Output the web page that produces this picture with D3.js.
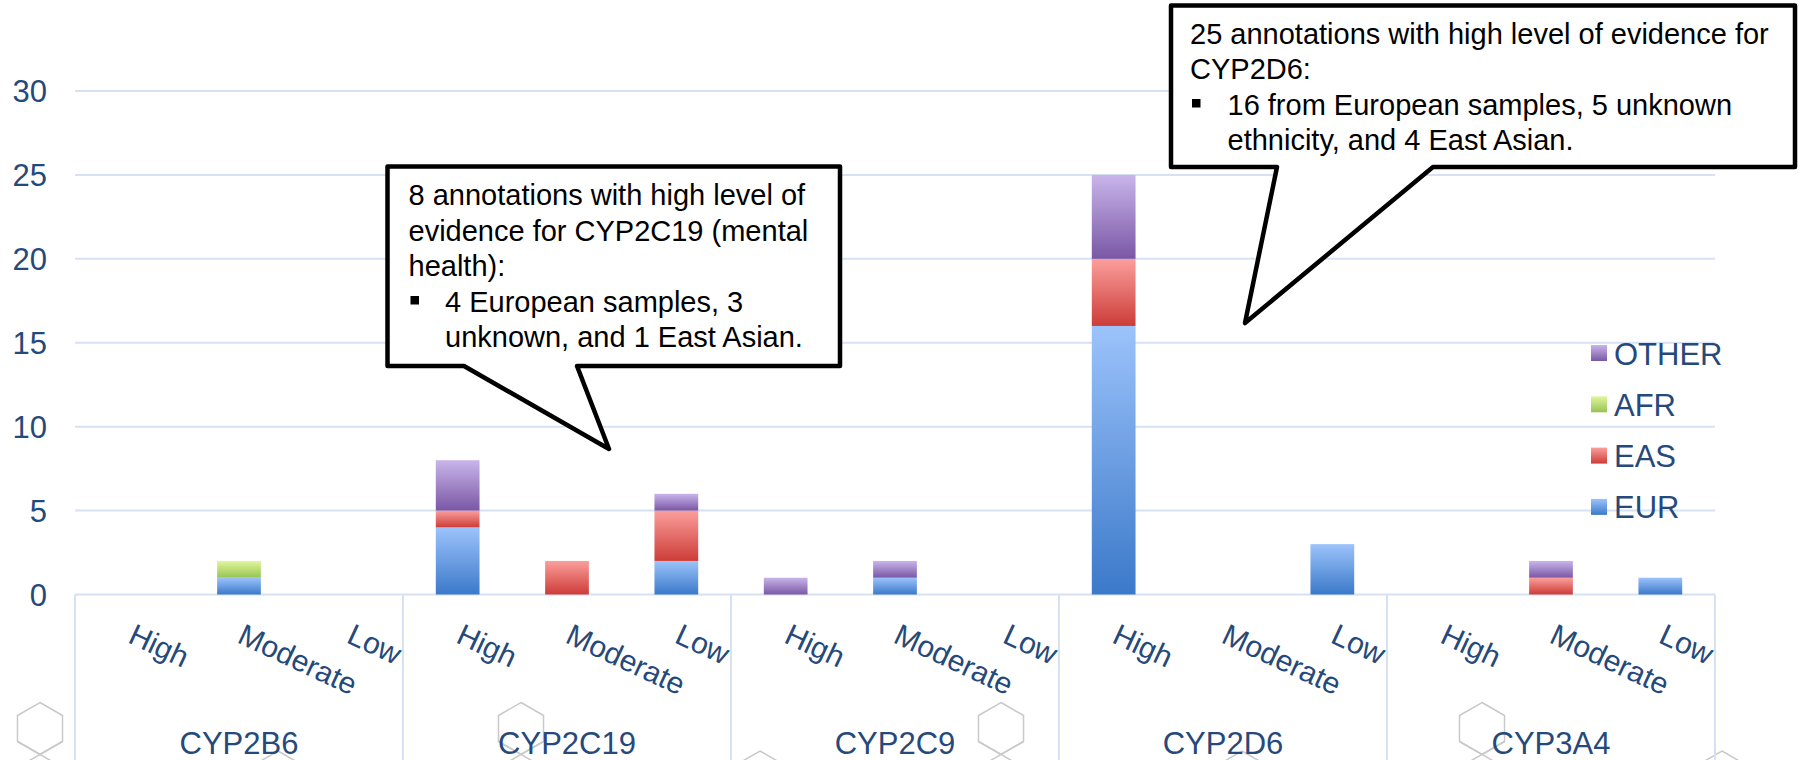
<!DOCTYPE html>
<html><head><meta charset="utf-8">
<script src="https://cdn.jsdelivr.net/npm/d3@7"></script>
<style>body{margin:0;background:#fff;overflow:hidden}</style>
</head><body><svg id="c" width="1806" height="760"></svg>
<script>
// ---- data ----
const genes = ["CYP2B6","CYP2C19","CYP2C9","CYP2D6","CYP3A4"];
const levels = ["High","Moderate","Low"];
const seriesNames = ["EUR","EAS","AFR","OTHER"];      // stacking order (bottom -> top)
const legendOrder = ["OTHER","AFR","EAS","EUR"];
// values per gene (rows) x level (High, Moderate, Low)
const EUR   = [[0,1,0],[4,0,2],[0,1,0],[16,0,3],[0,0,1]];
const EAS   = [[0,0,0],[1,2,3],[0,0,0],[4,0,0],[0,1,0]];
const AFR   = [[0,1,0],[0,0,0],[0,0,0],[0,0,0],[0,0,0]];
const OTHER = [[0,0,0],[3,0,1],[1,1,0],[5,0,0],[0,1,0]];
const yTicks = [0,5,10,15,20,25,30];
const callout1 = ["8 annotations with high level of","evidence for CYP2C19 (mental","health):"];
const callout1Bullet = ["4 European samples, 3","unknown, and 1 East Asian."];
const callout2 = ["25 annotations with high level of evidence for","CYP2D6:"];
const callout2Bullet = ["16 from European samples, 5 unknown","ethnicity, and 4 East Asian."];

// ---- styles ----
const grads = {
  EUR:["#9cc3fb","#3b79c9"],
  EAS:["#fb9f9c","#cd3c38"],
  AFR:["#dff79c","#98c352"],
  OTHER:["#c9b5ea","#7a57a5"]
};
const axisColor = "#d6e2f3";
const textColor = "#26497b";
const font = "'Liberation Sans', Arial, sans-serif";

const seriesData = {EUR, EAS, AFR, OTHER};
const rows = [];
genes.forEach((g,gi)=>levels.forEach((l,li)=>{
  const r = {gene:g, level:l};
  seriesNames.forEach(s=>r[s]=seriesData[s][gi][li]);
  rows.push(r);
}));

const svg = d3.select("#c");
const defs = svg.append("defs");
seriesNames.forEach(s=>{
  const lg = defs.append("linearGradient").attr("id","g_"+s)
    .attr("x1",0).attr("y1",0).attr("x2",0).attr("y2",1);
  lg.append("stop").attr("offset","0%").attr("stop-color",grads[s][0]);
  lg.append("stop").attr("offset","100%").attr("stop-color",grads[s][1]);
});

const left = 75, right = 1715, y0 = 594.5, yTop = 91;
const x = d3.scaleBand().domain(genes).range([left,right]).padding(0);
const xi = d3.scaleBand().domain(levels).range([0,x.bandwidth()]).paddingInner(0.6).paddingOuter(0.3);
const y = d3.scaleLinear().domain([0,30]).range([y0,yTop]);

// ---- decorative hexagons (background) ----
const hexBig = [40,521,1001,1482], hexSmall = [278,760,1242,1722];
function hexPath(cx,cy,r){
  const pts = d3.range(6).map(i=>{const a=Math.PI/3*i - Math.PI/2; return [cx+r*Math.cos(a), cy+r*Math.sin(a)];});
  return "M"+pts.map(p=>p.join(",")).join("L")+"Z";
}
const deco = svg.append("g").attr("fill","none").attr("stroke","#c9c9c9").attr("stroke-width",1.5);
hexBig.forEach(cx=>{
  const cy = 728.5, r = 26;
  deco.append("path").attr("d",hexPath(cx,cy,r));
  const bx = cx, by = cy + r;
  deco.append("path").attr("d",`M${bx-22.5},${by-13}L${bx+14},${by+8}M${bx+22.5},${by-13}L${bx-14},${by+8}`);
});
hexSmall.forEach(cx=>{
  deco.append("path").attr("d",hexPath(cx,777,26));
});

// ---- gridlines ----
svg.append("g").selectAll("line").data(yTicks.filter(t=>t>0)).join("line")
  .attr("x1",left).attr("x2",right).attr("y1",d=>y(d)).attr("y2",d=>y(d))
  .attr("stroke",axisColor).attr("stroke-width",2);

// y labels
svg.append("g").selectAll("text").data(yTicks).join("text")
  .attr("x",47).attr("y",d=>y(d)+11).attr("text-anchor","end")
  .attr("font-family",font).attr("font-size",31).attr("fill",textColor)
  .text(d=>d);

// ---- x axis box ----
const ax = svg.append("g").attr("stroke",axisColor).attr("stroke-width",2);
ax.append("line").attr("x1",left).attr("x2",right).attr("y1",y0).attr("y2",y0);
const bounds = genes.map(g=>x(g)).concat([right]);
ax.selectAll("line.v").data(bounds).join("line").attr("class","v")
  .attr("x1",d=>d).attr("x2",d=>d).attr("y1",y0).attr("y2",760);

// ---- bars ----
const stack = d3.stack().keys(seriesNames)(rows);
const bars = svg.append("g");
stack.forEach(layer=>{
  bars.append("g").attr("fill",`url(#g_${layer.key})`)
    .selectAll("rect").data(layer.filter(d=>d[1]-d[0]>0)).join("rect")
    .attr("x",d=>x(d.data.gene)+xi(d.data.level))
    .attr("width",xi.bandwidth())
    .attr("y",d=>y(d[1]))
    .attr("height",d=>y(d[0])-y(d[1]));
});

// ---- category labels ----
const lab = svg.append("g").attr("font-family",font).attr("fill",textColor);
rows.forEach(r=>{
  const cx = x(r.gene)+xi(r.level)+xi.bandwidth()/2 - 3;
  lab.append("text").attr("transform",`translate(${cx},642) rotate(25)`)
    .attr("font-size",30).text(r.level);
});
genes.forEach(g=>{
  lab.append("text").attr("x",x(g)+x.bandwidth()/2).attr("y",754)
    .attr("text-anchor","middle").attr("font-size",31).text(g);
});

// ---- legend ----
const lg = svg.append("g").attr("font-family",font);
legendOrder.forEach((s,i)=>{
  const yy = 345 + i*51.3;
  lg.append("rect").attr("x",1591).attr("y",yy).attr("width",16).attr("height",16).attr("fill",`url(#g_${s})`);
  lg.append("text").attr("x",1614).attr("y",yy+19.5).attr("font-size",31).attr("fill",textColor).text(s);
});

// ---- callouts ----
function callout(box, base, tip, lines, bullets, tx, ty, indent){
  const [l,t,r,b] = box;
  const d = `M${l},${t}L${r},${t}L${r},${b}L${base[1]},${b}L${tip[0]},${tip[1]}L${base[0]},${b}L${l},${b}Z`;
  svg.append("path").attr("d",d).attr("fill","#fff").attr("stroke","#000")
    .attr("stroke-width",4.5).attr("stroke-linejoin","round");
  const g = svg.append("g").attr("font-family",font).attr("font-size",29).attr("fill","#000");
  const lh = 35.5;
  lines.forEach((s,i)=>g.append("text").attr("x",tx).attr("y",ty+i*lh).text(s));
  bullets.forEach((s,i)=>{
    const yy = ty+(lines.length+i)*lh;
    if(i===0) g.append("rect").attr("x",tx+2).attr("y",yy-15.5).attr("width",8.5).attr("height",8.5);
    g.append("text").attr("x",indent).attr("y",yy).text(s);
  });
}
callout([387.5,166.5,840,366],[464,577],[609,449],callout1,callout1Bullet,408.5,205,445);
callout([1171,5.5,1795,167],[1277,1433],[1245,323],callout2,callout2Bullet,1190,43.5,1227.5);
</script></body></html>
